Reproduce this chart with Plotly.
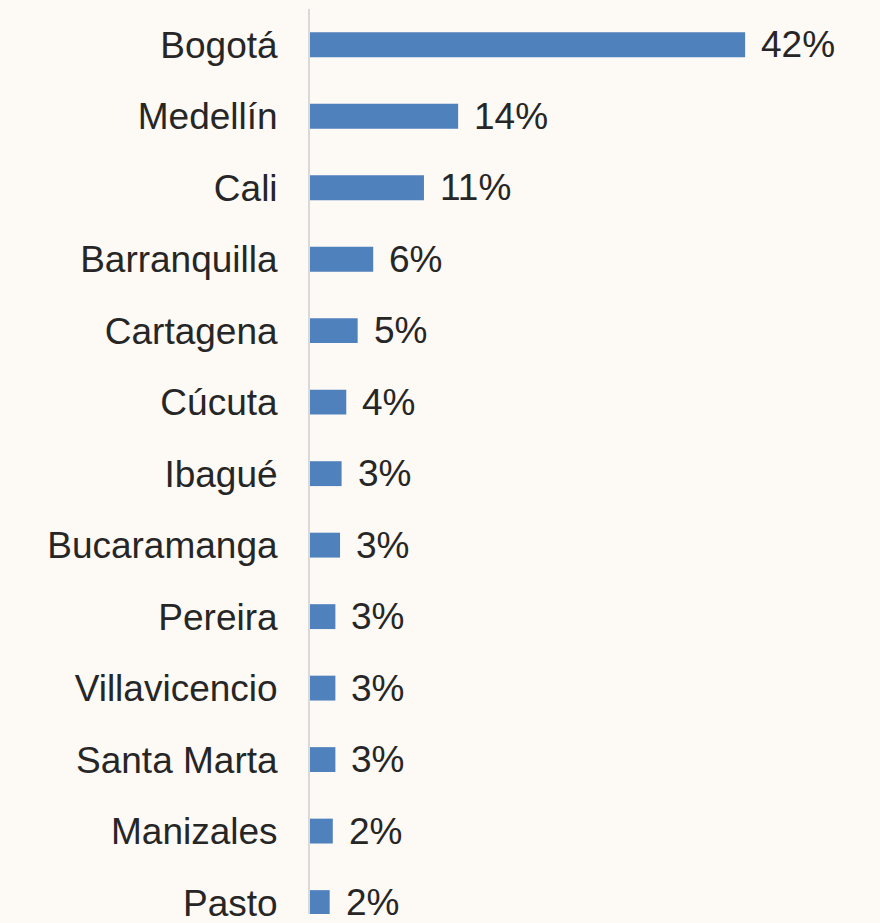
import plotly.graph_objects as go

cities = ["Bogotá", "Medellín", "Cali", "Barranquilla", "Cartagena", "Cúcuta",
          "Ibagué", "Bucaramanga", "Pereira", "Villavicencio", "Santa Marta",
          "Manizales", "Pasto"]
values = [42.0, 14.3, 11.0, 6.1, 4.6, 3.5, 3.05, 2.9, 2.45, 2.45, 2.45, 2.2, 1.9]
labels = ["42%", "14%", "11%", "6%", "5%", "4%", "3%", "3%", "3%", "3%", "3%", "2%", "2%"]

BG = "#FDF9F4"
FONT = "Liberation Sans, Arial, sans-serif"
TXT = "#262626"

fig = go.Figure()
fig.add_trace(go.Bar(
    x=values, y=cities, orientation="h",
    marker=dict(color="#4F81BD", line=dict(width=0)),
    hoverinfo="skip",
))

for v, c, t in zip(values, cities, labels):
    fig.add_annotation(x=v, y=c, text=t, showarrow=False, xanchor="left",
                       yanchor="middle", xshift=14,
                       font=dict(family=FONT, size=37, color=TXT))

fig.update_layout(
    width=880, height=923,
    margin=dict(l=310, r=52, t=9, b=0),
    paper_bgcolor=BG, plot_bgcolor=BG,
    bargap=0.652,
    showlegend=False,
    font=dict(family=FONT, size=37, color=TXT),
)
fig.update_xaxes(range=[0, 50], visible=False, showgrid=False, zeroline=False)
fig.update_yaxes(
    type="category", range=[12.16, -0.5],
    showline=True, linecolor="#D9D9D9", linewidth=2,
    showgrid=False, zeroline=False, ticks="",
    ticklabelstandoff=23,
    tickfont=dict(family=FONT, size=37, color=TXT),
)

fig.write_html(
    "out.html",
    config={"displayModeBar": False},
    post_script="document.body.style.margin='0';document.body.style.background='" + BG + "';",
)
